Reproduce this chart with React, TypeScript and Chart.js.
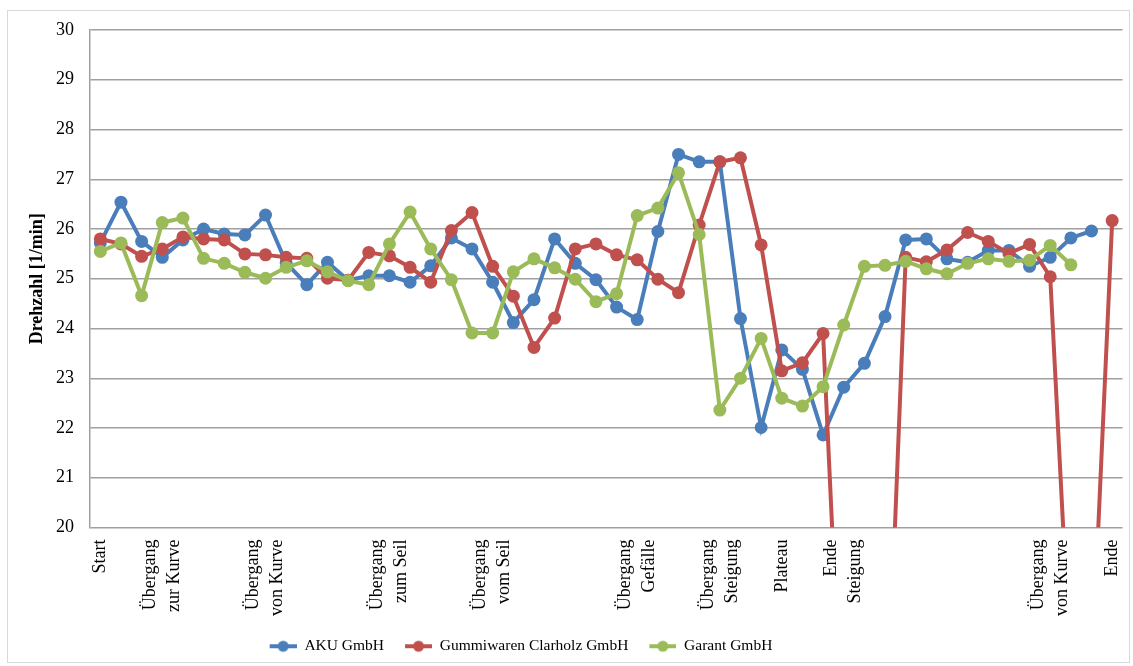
import React, { useEffect, useRef } from "react";
import { Chart, registerables } from "chart.js";

Chart.register(...registerables);

// ---- data ----
const CATEGORY_COUNT = 50;

const TICK_INDEX = [0, 3, 8, 14, 19, 26, 30, 33, 36, 46, 49];
const TICK_LABELS: string[][] = [
  ["Start"],
  ["Übergang", "zur Kurve"],
  ["Übergang", "von Kurve"],
  ["Übergang", "zum Seil"],
  ["Übergang", "vom Seil"],
  ["Übergang", "Gefälle"],
  ["Übergang", "Steigung"],
  ["Plateau"],
  ["Ende", "Steigung"],
  ["Übergang", "von Kurve"],
  ["Ende"],
];

const SERIES_NAMES = ["AKU GmbH", "Gummiwaren Clarholz GmbH", "Garant GmbH"];

const AKU: (number | null)[] = [
  25.72, 26.54, 25.75, 25.43, 25.78, 26.0, 25.9, 25.88, 26.28, 25.32,
  24.88, 25.33, 24.97, 25.06, 25.06, 24.93, 25.26, 25.82, 25.6, 24.93,
  24.12, 24.58, 25.8, 25.31, 24.98, 24.43, 24.18, 25.95, 27.5, 27.35,
  27.35, 24.2, 22.01, 23.57, 23.18, 21.86, 22.82, 23.3, 24.24, 25.78,
  25.8, 25.4, 25.33, 25.57, 25.57, 25.25, 25.43, 25.82, 25.96, null,
];

const GUMMIWAREN: (number | null)[] = [
  25.8, 25.7, 25.45, 25.6, 25.84, 25.8, 25.78, 25.5, 25.48, 25.43,
  25.41, 25.01, 24.97, 25.53, 25.46, 25.23, 24.93, 25.97, 26.33, 25.25,
  24.65, 23.62, 24.21, 25.6, 25.7, 25.48, 25.38, 24.99, 24.72, 26.08,
  27.35, 27.43, 25.68, 23.15, 23.31, 23.9, 15, 15, 15, 25.43,
  25.34, 25.58, 25.93, 25.75, 25.51, 25.69, 25.04, 17, 17, 26.17,
];

const GARANT: (number | null)[] = [
  25.55, 25.72, 24.66, 26.13, 26.22, 25.41, 25.31, 25.13, 25.01, 25.23,
  25.36, 25.14, 24.96, 24.88, 25.7, 26.34, 25.6, 24.98, 23.91, 23.91,
  25.14, 25.4, 25.22, 24.99, 24.54, 24.7, 26.27, 26.42, 27.13, 25.89,
  22.36, 23.0, 23.8, 22.6, 22.44, 22.83, 24.07, 25.25, 25.27, 25.35,
  25.2, 25.1, 25.31, 25.4, 25.35, 25.37, 25.67, 25.28, null, null,
];

const Y_MIN = 20;
const Y_MAX = 30;
const Y_STEP = 1;
const Y_TITLE = "Drehzahl [1/min]";

// ---- styles ----
const COLORS = ["#4A7EBB", "#C0504D", "#9BBB59"];
const FONT = "'Liberation Serif', 'Times New Roman', serif";
const LABEL_SIZE = 18;
const LABEL_LH = 1.33;
const GRID = "#a0a0a0";

function makeLegendMarker(color: string): HTMLCanvasElement {
  const c = document.createElement("canvas");
  c.width = 36;
  c.height = 14;
  const ctx = c.getContext("2d")!;
  ctx.strokeStyle = color;
  ctx.lineWidth = 4;
  ctx.beginPath();
  ctx.moveTo(9, 7);
  ctx.lineTo(36, 7);
  ctx.stroke();
  ctx.fillStyle = color;
  ctx.beginPath();
  ctx.arc(22.5, 7, 5.5, 0, Math.PI * 2);
  ctx.fill();
  return c;
}

export default function App() {
  const canvasRef = useRef<HTMLCanvasElement | null>(null);

  useEffect(() => {
    if (!canvasRef.current) return;
    const seriesValues = [AKU, GUMMIWAREN, GARANT];
    const markers = COLORS.map(makeLegendMarker);

    const legendShift = {
      id: "legendShift",
      afterLayout(chart: any) {
        const lg = chart.legend;
        if (lg) {
          lg.left -= 50;
          lg.right -= 50;
          lg.top += 2;
          lg.bottom += 2;
        }
      },
    };

    const chart = new Chart(canvasRef.current, {
      type: "line",
      data: {
        datasets: seriesValues.map((vals, s) => ({
          label: SERIES_NAMES[s],
          data: vals.map((v, i) => ({ x: i, y: v })),
          borderColor: COLORS[s],
          backgroundColor: COLORS[s],
          pointBackgroundColor: COLORS[s],
          pointBorderColor: COLORS[s],
          pointBorderWidth: 0,
          pointRadius: 6.5,
          borderWidth: 4,
          tension: 0,
          spanGaps: false,
          order: 2 - s,
        })),
      },
      options: {
        animation: false,
        responsive: true,
        maintainAspectRatio: false,
        layout: { padding: { top: 19, right: 4, left: 0, bottom: 0 } },
        plugins: {
          tooltip: { enabled: false },
          legend: {
            position: "bottom",
            labels: {
              usePointStyle: true,
              pointStyleWidth: 36,
              padding: 12,
              color: "#000",
              font: { family: FONT, size: 15.5 },
              sort: (a: any, b: any) => a.datasetIndex - b.datasetIndex,
              generateLabels: (ch: any) => {
                const items = (Chart.defaults.plugins.legend.labels as any).generateLabels(ch);
                return items.map((it: any) => ({ ...it, pointStyle: markers[it.datasetIndex] }));
              },
            },
          },
        },
        scales: {
          x: {
            type: "linear",
            min: -0.5,
            max: CATEGORY_COUNT - 0.5,
            grid: { display: false, drawTicks: false },
            border: { display: false },
            afterBuildTicks: (scale: any) => {
              const lh = LABEL_SIZE * LABEL_LH;
              const ppu = scale.width / (scale.max - scale.min);
              const shift = ppu > 0 ? lh / 2 / ppu : 0;
              scale.ticks = TICK_INDEX.map((idx, k) => ({
                value: idx - (TICK_LABELS[k].length > 1 ? shift : 0),
              }));
            },
            afterFit: (scale: any) => {
              scale.height = 97;
              scale.paddingLeft = 0;
              scale.paddingRight = 0;
            },
            ticks: {
              autoSkip: false,
              minRotation: 90,
              maxRotation: 90,
              padding: 12,
              color: "#000",
              font: { family: FONT, size: LABEL_SIZE, lineHeight: LABEL_LH },
              callback: (_v: any, i: number) => TICK_LABELS[i],
            },
          },
          y: {
            min: Y_MIN,
            max: Y_MAX,
            grid: { color: GRID, lineWidth: 1.5, drawTicks: false },
            border: { display: true, color: GRID, width: 1.5 },
            afterFit: (scale: any) => {
              scale.width = 82;
              scale.paddingTop = 0;
              scale.paddingBottom = 0;
            },
            ticks: {
              stepSize: Y_STEP,
              padding: 16,
              color: "#000",
              font: { family: FONT, size: 18 },
            },
            title: {
              display: true,
              text: Y_TITLE,
              color: "#000",
              padding: { top: 19, bottom: 0 },
              font: { family: FONT, size: 18, weight: "bold" },
            },
          },
        },
      },
      plugins: [legendShift],
    } as any);

    return () => chart.destroy();
  }, []);

  return (
    <div
      style={{
        position: "absolute",
        left: 7,
        top: 10,
        width: 1123,
        height: 653,
        border: "1px solid #d9d9d9",
        boxSizing: "border-box",
        background: "#fff",
      }}
    >
      <canvas ref={canvasRef} />
    </div>
  );
}
